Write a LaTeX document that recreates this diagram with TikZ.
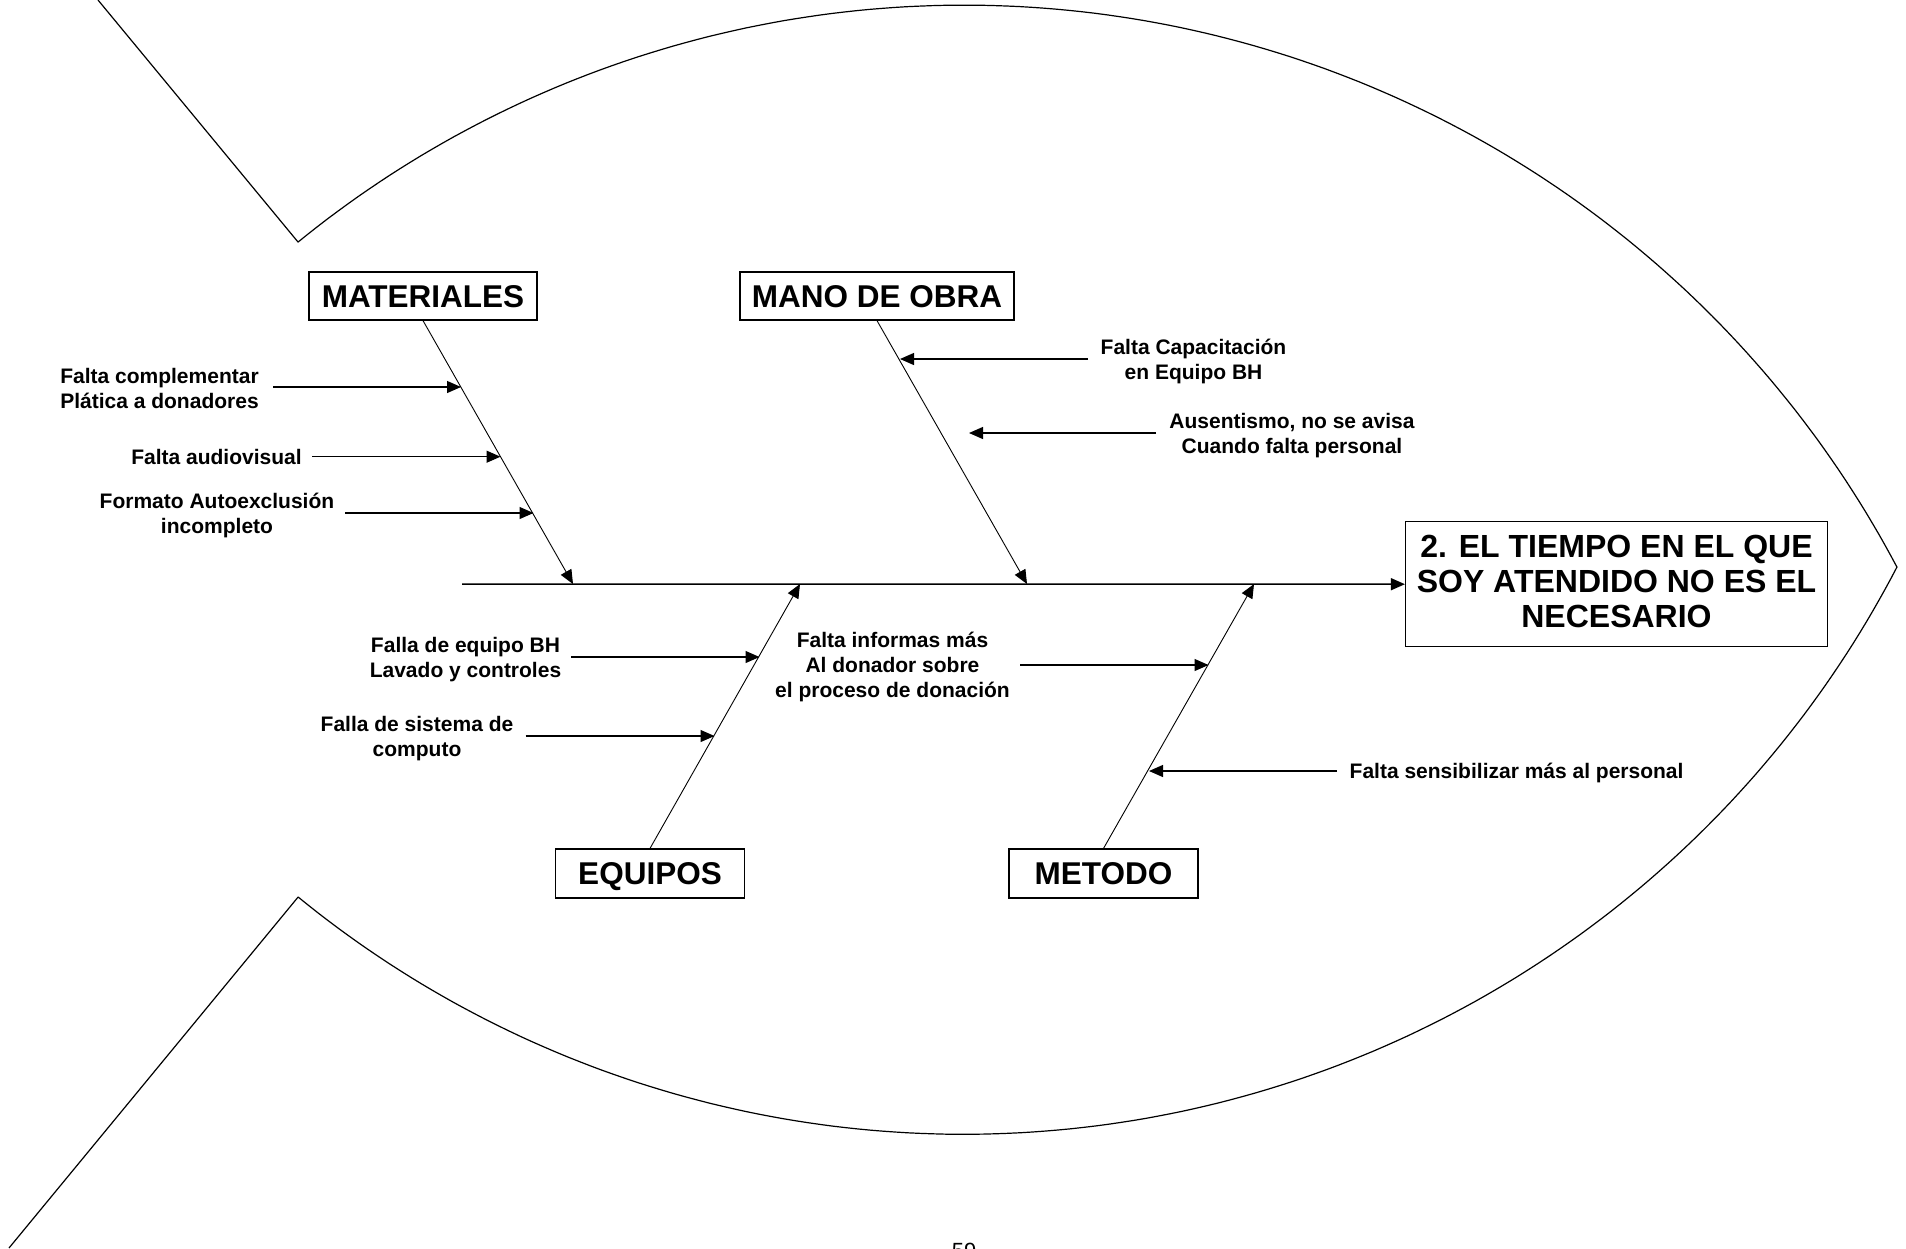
\documentclass[tikz,border=0pt]{standalone}
\usepackage{fontspec}
\setmainfont{Liberation Sans}
\usetikzlibrary{arrows.meta}
\begin{document}
\begin{tikzpicture}[x=1pt,y=-1pt,
  box/.style={draw,line width=1.2pt,inner sep=0pt,text height=22.5pt,text depth=0pt,font=\fontsize{31.5}{34}\selectfont\bfseries},
  headtext/.style={inner sep=0pt,align=center,font=\fontsize{32}{35}\selectfont\bfseries},
  lbl/.style={inner sep=0pt,align=center,font=\fontsize{21}{25}\selectfont\bfseries},
  bone/.style={line width=0.9pt,-{Triangle[length=14pt,width=12pt]}},
  sub/.style={line width=1.2pt,-{Triangle[length=14pt,width=12pt]}},
  spine/.style={line width=1.5pt,-{Triangle[length=14pt,width=12pt]}},
  outline/.style={line width=1.2pt,line join=round}]
\useasboundingbox (0,0) rectangle (1906,1248);

% fish outline
\draw[outline] (98,0) -- (298,242)
  -- plot[domain=-129.15:-27.87,samples=150] ({964.2+1055.1*cos(\x)},{1060.2+1055.1*sin(\x)})
  -- plot[domain=27.42:129.25,samples=150] ({963.5+1051.7*cos(\x)},{82.6+1051.7*sin(\x)})
  -- (9,1248);

% category boxes
\node[box,minimum width=228pt,minimum height=48pt] (mat) at (423,296) {MATERIALES};
\node[box,minimum width=274pt,minimum height=48pt] (mano) at (877,296) {MANO DE OBRA};
\node[box,minimum width=189pt,minimum height=49pt] (equ) at (650,873.5) {EQUIPOS};
\node[box,minimum width=189pt,minimum height=49pt] (met) at (1103.5,873.5) {METODO};

% head
\node[draw,line width=1.2pt,inner sep=0pt,minimum width=422pt,minimum height=125pt] (head) at (1616.5,584.2) {};
\node[headtext] (headtxt) at (1616.5,581.7) {2. EL TIEMPO EN EL QUE\\SOY ATENDIDO NO ES EL\\NECESARIO};

% spine and bones
\coordinate (sp0) at (462,584);
\coordinate (matTip) at (573,584);
\coordinate (manoTip) at (1027,584);
\coordinate (equTip) at (800,584);
\coordinate (metTip) at (1254,584);
\draw[bone] (mat.south) -- (matTip);
\draw[bone] (mano.south) -- (manoTip);
\draw[bone] (equ.north) -- (equTip);
\draw[bone] (met.north) -- (metTip);
\draw[spine] (sp0) -- (head.west);

% labels
\node[lbl] (l1) at (159.5,388) {Falta complementar\\Plática a donadores};
\node[lbl] (l2) at (216.5,457) {Falta audiovisual};
\node[lbl] (l3) at (217,515.5) {Formato Autoexclusión\\incompleto};
\node[lbl] (l4) at (1193.5,361.5) {Falta Capacitación\\en Equipo BH};
\node[lbl] (l5) at (1292,435.5) {Ausentismo, no se avisa\\Cuando falta personal};
\node[lbl] (l6) at (465.5,659.5) {Falla de equipo BH\\Lavado y controles};
\node[lbl] (l7) at (417,739) {Falla de sistema de\\computo};
\node[lbl] (l8) at (892.5,667) {Falta informas más\\Al donador sobre\\el proceso de donación};
\node[lbl,anchor=base west] (l9) at (1349.5,778.5) {Falta sensibilizar más al personal};

% sub-cause arrows
\coordinate (a1s) at (273,387);   \coordinate (a1e) at (461,387);
\coordinate (a2s) at (312,456.7); \coordinate (a2e) at (500.5,456.7);
\coordinate (a3s) at (345,513);   \coordinate (a3e) at (533.5,513);
\coordinate (a4s) at (1088,359);  \coordinate (a4e) at (900,359);
\coordinate (a5s) at (1156,433);  \coordinate (a5e) at (969,433);
\coordinate (a6s) at (571,657);   \coordinate (a6e) at (759.5,657);
\coordinate (a7s) at (525.5,736); \coordinate (a7e) at (714.5,736);
\coordinate (a8s) at (1020,665);  \coordinate (a8e) at (1208.5,665);
\coordinate (a9s) at (1337,771);  \coordinate (a9e) at (1149,771);
\foreach \i in {1,...,9} { \draw[sub] (a\i s) -- (a\i e); }

% page number (cut off by the page edge, as in the original)
\node[inner sep=0pt,anchor=base,font=\fontsize{22}{26}\selectfont] (pg) at (964,1258) {59};
\end{tikzpicture}
\end{document}
